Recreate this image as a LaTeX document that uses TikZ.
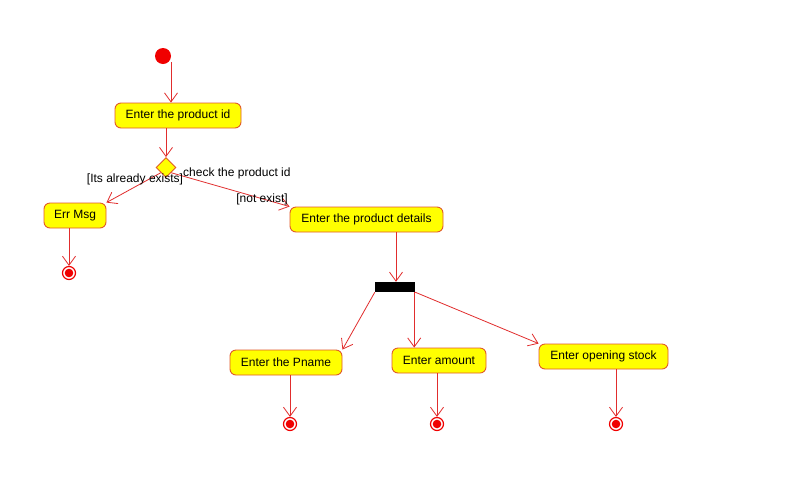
\documentclass[tikz,border=0pt]{standalone}
\usepackage{fontspec}
\setmainfont{Liberation Sans}
\usetikzlibrary{arrows.meta,shapes.geometric,calc}
\definecolor{boxborder}{RGB}{224,90,40}
\definecolor{boxfill}{RGB}{255,255,0}
\definecolor{arrred}{RGB}{225,45,45}
\definecolor{statered}{RGB}{240,0,0}
\tikzset{
  act/.style={draw=boxborder, fill=boxfill, line width=0.9pt, rounded corners=6pt,
    minimum height=25pt, inner sep=0pt, font=\fontsize{12}{14}\selectfont},
  arr/.style={draw=arrred, line width=0.8pt, -{Straight Barb[length=9pt,width=13pt,line width=0.8pt]}},
  initst/.style={circle, fill=statered, minimum size=16pt, inner sep=0pt},
  finst/.style={circle, draw=statered, line width=1.2pt, fill=white, minimum size=13pt, inner sep=0pt,
    path picture={\fill[statered] (path picture bounding box.center) circle (4.3pt);}},
  decis/.style={diamond, draw=boxborder, fill=boxfill, line width=0.9pt, minimum width=20pt, minimum height=20pt, inner sep=0pt},
  bar/.style={fill=black, minimum width=40pt, minimum height=10pt, inner sep=0pt},
  lbl/.style={font=\fontsize{12}{14}\selectfont, inner sep=0pt}
}
\begin{document}
\begin{tikzpicture}[x=1pt,y=-1pt]
\useasboundingbox (0,0) rectangle (794,483);
\fill[white] (0,0) rectangle (794,483);
\node[initst] (start) at (163,56) {};
\node[act, minimum width=126pt] (pid) at (178,115.5) {Enter the product id};
\node[decis] (dec) at (166,167.5) {};
\node[lbl, anchor=west] (chk) at (183,173) {check the product id};
\node[act, minimum width=62pt] (err) at (75,215.5) {Err Msg};
\node[act, minimum width=153pt] (det) at (366.5,219.5) {Enter the product details};
\node[finst] (f0) at (69,273) {};
\node[bar] (fork) at (395,287) {};
\node[act, minimum width=112pt] (pn) at (286,362.5) {Enter the Pname};
\node[act, minimum width=94pt] (am) at (439,360.5) {Enter amount};
\node[act, minimum width=129pt] (os) at (603.5,356.5) {Enter opening stock};
\node[finst] (f1) at (290,424) {};
\node[finst] (f2) at (437,424) {};
\node[finst] (f3) at (616,424) {};

\coordinate (c1) at ($(start.center)+(8,6)$);
\draw[arr] (c1) -- (c1 |- pid.north);
\draw[arr] (pid.south -| dec.north) -- (dec.north);
\draw[arr] (dec.south west) -- (err.north east);
\draw[arr] (dec.south east) -- (det.north west);
\draw[arr] (err.south -| f0.north) -- (f0.north);
\draw[arr] (det.south -| fork.north) ++(1,0) coordinate (c2) -- (c2 |- fork.north);
\draw[arr] (fork.south west) -- (pn.north east);
\draw[arr] (fork.south east) ++(-1,0) coordinate (c3) -- (c3 |- am.north);
\draw[arr] (fork.south east) -- (os.north west);
\draw[arr] (pn.south -| f1.north) -- (f1.north);
\draw[arr] (am.south -| f2.north) -- (f2.north);
\draw[arr] (os.south -| f3.north) -- (f3.north);

\node[lbl] (l1) at (135,179.5) {[Its already exists]};
\node[lbl] (l2) at (262,199) {[not exist]};
\end{tikzpicture}
\end{document}
